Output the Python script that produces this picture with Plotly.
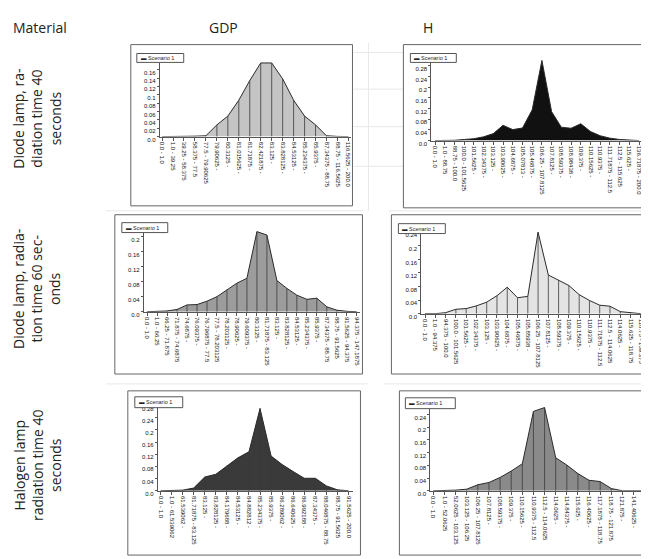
import plotly.graph_objects as go

W, H = 649, 559

# ---------------- data ----------------
cats_gdp_40 = ["0.0 - 1.0", "1.0 - 39.25", "39.25 - 58.375", "58.375 - 77.5", "77.5 - 79.90625",
               "79.90625 -", "80.3125 -", "81.015625 -", "81.71875 -", "82.421875 -", "83.125 -",
               "83.828125 -", "84.53125 -", "85.234375 -", "85.9375 -", "87.34375 - 88.75",
               "88.75 - 116.5625", "116.5625 - 200.0"]
vals_gdp_40 = [0, 0, 0, 0.001, 0.002, 0.028, 0.049, 0.087, 0.134, 0.176, 0.176, 0.138, 0.087,
               0.049, 0.028, 0.002, 0.0005, 0]

cats_h_40 = ["0.0 - 1.0", "1.0 - 88.75", "88.75 - 100.0", "100.0 - 101.5625", "101.5625 -",
             "102.34375 -", "103.125 -", "103.90625 -", "104.6875 -", "105.07813 -", "105.46875 -",
             "106.25 - 107.8125", "107.8125 -", "108.59375 -", "108.98438 -", "109.375 -",
             "110.15625 -", "110.9375 -", "111.71875 - 112.5", "112.5 - 115.625", "115.625 -",
             "136.71875 - 200.0"]
vals_h_40 = [0, 0, 0.001, 0.004, 0.007, 0.014, 0.026, 0.057, 0.041, 0.047, 0.115, 0.30, 0.108,
             0.05, 0.046, 0.063, 0.034, 0.018, 0.009, 0.004, 0.001, 0]

cats_gdp_60 = ["0.0 - 1.0", "1.0 - 66.25", "66.25 - 71.875", "71.875 - 74.6875", "74.6875 -",
               "76.09375 -", "76.796875 - 77.5", "77.5 - 78.203125", "78.203125 -", "78.90625 -",
               "79.609375 -", "80.3125 -", "81.71875 - 83.125", "83.125 -", "83.828125 -",
               "84.53125 -", "85.234375 -", "85.9375 -", "87.34375 - 88.75", "88.75 - 91.5625",
               "91.5625 - 94.375", "94.375 - 147.1875"]
vals_gdp_60 = [0, 0, 0.002, 0.006, 0.018, 0.019, 0.028, 0.040, 0.058, 0.076, 0.089, 0.213,
               0.204, 0.083, 0.062, 0.044, 0.033, 0.036, 0.013, 0.004, 0.001, 0]

cats_h_60 = ["0.0 - 1.0", "1.0 - 94.375", "94.375 - 100.0", "100.0 - 101.5625", "101.5625 -",
             "102.34375 -", "103.125 -", "103.90625 -", "104.6875 -", "105.46875 -",
             "105.85938 -", "106.25 - 107.8125", "107.8125 -", "108.59375 -", "109.375 -",
             "110.15625 -", "110.9375 -", "111.71875 - 112.5", "112.5 - 114.0625", "114.0625 -",
             "115.625 - 118.75", "118.75 - 159.375"]
vals_h_60 = [0, 0, 0.003, 0.013, 0.015, 0.023, 0.034, 0.053, 0.078, 0.047, 0.051, 0.240,
             0.114, 0.099, 0.083, 0.056, 0.039, 0.025, 0.022, 0.006, 0.003, 0]

cats_gdp_hal = ["0.0 - 1.0", "1.0 - 61.539062", "61.539062 -", "81.71875 - 83.125", "83.125 -",
                "83.828125 -", "84.179688 -", "84.53125 -", "84.882812 -", "85.234375 -",
                "85.9375 -", "86.289062 -", "86.640625 -", "86.992188 -", "87.34375 -",
                "88.046875 - 88.75", "88.75 - 91.5625", "91.5625 - 200.0"]
vals_gdp_hal = [0, 0, 0.002, 0.009, 0.045, 0.054, 0.082, 0.108, 0.128, 0.27, 0.114, 0.086,
                0.063, 0.041, 0.041, 0.016, 0.003, 0]

cats_h_hal = ["0.0 - 1.0", "1.0 - 52.0625", "52.0625 - 103.125", "103.125 - 106.25",
              "106.25 - 107.8125", "107.8125 -", "108.59375 -", "109.375 -", "110.15625 -",
              "110.9375 - 112.5", "112.5 - 114.0625", "114.0625 -", "114.84375 -", "115.625 -",
              "116.40625 -", "117.1875 - 118.75", "118.75 - 121.875", "121.875 -",
              "141.40625 -", "160.9375 - 200.0"]
vals_h_hal = [0, 0, 0.002, 0.005, 0.019, 0.026, 0.042, 0.062, 0.085, 0.25, 0.262, 0.104,
              0.081, 0.054, 0.033, 0.029, 0.007, 0, 0, 0]

ticks_a = [0.0, 0.02, 0.04, 0.06, 0.08, 0.1, 0.12, 0.14, 0.16]
ticklab_a = ["0.0", "0.02", "0.04", "0.06", "0.08", "0.1", "0.12", "0.14", "0.16"]
ticks_b = [0.0, 0.04, 0.08, 0.12, 0.16, 0.2, 0.24, 0.28]
ticklab_b = ["0.0", "0.04", "0.08", "0.12", "0.16", "0.2", "0.24", "0.28"]

col_titles = ["Material", "GDP", "H"]
row_titles = ["Diode lamp, ra-<br>diation time 40<br>seconds",
              "Diode lamp, radia-<br>tion time 60 sec-<br>onds",
              "Halogen lamp<br>radiation time 40<br>seconds"]
legend_text = "Scenario 1"

# ---------------- geometry (pixels) ----------------
panels = [
    dict(cats=cats_gdp_40, vals=vals_gdp_40, fill="#c4c4c4", ticks=ticks_a, tl=ticklab_a,
         ax=(151, 343), ay=(48, 130), scale=423, first=153.3, step=10.98,
         frame=(122, 37, 344, 200), leg=(128, 46, 175, 55)),
    dict(cats=cats_h_40, vals=vals_h_40, fill="#111111", ticks=ticks_b, tl=ticklab_b,
         ax=(423, 634), ay=(48, 134), scale=270, first=426.7, step=9.73,
         frame=(395, 37, 637, 202), leg=(402, 46, 448, 55)),
    dict(cats=cats_gdp_60, vals=vals_gdp_60, fill="#9c9c9c", ticks=ticks_b, tl=ticklab_b,
         ax=(135, 352), ay=(222, 307), scale=380, first=138.3, step=10.0,
         frame=(106, 209, 354, 370), leg=(113, 217, 159, 227)),
    dict(cats=cats_h_60, vals=vals_h_60, fill="#e4e4e4", ticks=ticks_b, tl=ticklab_b,
         ax=(413, 640), ay=(222, 309), scale=343, first=416.7, step=10.29,
         frame=(383, 209, 643, 370), leg=(390, 218, 437, 228)),
    dict(cats=cats_gdp_hal, vals=vals_gdp_hal, fill="#3a3a3a", ticks=ticks_b, tl=ticklab_b,
         ax=(149, 345), ay=(400, 488), scale=308, first=151.7, step=11.08,
         frame=(119, 387, 352, 553), leg=(126, 393, 174, 404)),
    dict(cats=cats_h_hal, vals=vals_h_hal, fill="#8a8a8a", ticks=ticks_b, tl=ticklab_b,
         ax=(422, 643), ay=(400, 488), scale=321, first=425.0, step=11.14,
         frame=(391, 387, 646, 553), leg=(397, 394, 447, 405)),
]

# faint background lines (remnants of the screenshots)
faint = [
    (345, 45, 395, 45), (345, 82, 395, 82), (345, 120, 395, 120), (345, 160, 395, 160),
    (360, 35, 360, 205), (637, 45, 649, 45), (637, 120, 649, 120),
    (97, 205, 355, 205), (380, 205, 649, 205),
    (97, 380, 360, 380), (375, 380, 649, 380),
]

def fx(px):
    return px / W

def fy(py):
    return 1 - py / H

fig = go.Figure()
shapes = []
annotations = []
lay = {}
tickfont = dict(family="Liberation Sans", size=6, color="#111")

for (a, b, c, d) in faint:
    shapes.append(dict(type="line", xref="paper", yref="paper", x0=fx(a), x1=fx(c),
                       y0=fy(b), y1=fy(d), line=dict(color="#e8e8e8", width=1), layer="below"))

for i, p in enumerate(panels, start=1):
    xa = "x" if i == 1 else f"x{i}"
    ya = "y" if i == 1 else f"y{i}"
    # drop lines
    dx, dy = [], []
    for c, v in zip(p["cats"], p["vals"]):
        dx += [c, c, None]
        dy += [0, v, None]
    fig.add_trace(go.Scatter(x=p["cats"], y=p["vals"], mode="lines", fill="tozeroy",
                             fillcolor=p["fill"], line=dict(color="#2a2a2a", width=1),
                             xaxis=xa, yaxis=ya, showlegend=False, hoverinfo="skip"))
    if p["fill"] != "#111111":
        fig.add_trace(go.Scatter(x=dx, y=dy, mode="lines",
                                 line=dict(color="#3a3a3a", width=0.8),
                                 xaxis=xa, yaxis=ya, showlegend=False, hoverinfo="skip"))
    x0, x1 = p["ax"]
    y0, y1 = p["ay"]
    r0 = (x0 - p["first"]) / p["step"]
    r1 = (x1 - p["first"]) / p["step"]
    ytop = (y1 - y0) / p["scale"]
    lay["xaxis" if i == 1 else f"xaxis{i}"] = dict(
        domain=[fx(x0), fx(x1)], anchor=ya, type="category", categoryorder="array",
        categoryarray=p["cats"], range=[r0, r1], tickmode="array", tickvals=p["cats"],
        ticktext=p["cats"], tickangle=90, tickfont=tickfont, ticklabeloverflow="allow",
        showline=True, linecolor="#555", linewidth=1, ticks="outside", ticklen=3,
        tickcolor="#555", showgrid=False, zeroline=False, fixedrange=True)
    lay["yaxis" if i == 1 else f"yaxis{i}"] = dict(
        domain=[fy(y1), fy(y0)], anchor=xa, range=[0, ytop], tickvals=p["ticks"],
        ticktext=p["tl"], tickfont=tickfont, showline=True, linecolor="#555", linewidth=1,
        ticks="outside", ticklen=2, tickcolor="#555", showgrid=False, zeroline=False,
        ticklabelshift=3, fixedrange=True)
    fl, ft, fr, fb = p["frame"]
    shapes.append(dict(type="rect", xref="paper", yref="paper", x0=fx(fl), x1=fx(fr),
                       y0=fy(fb), y1=fy(ft), line=dict(color="#666", width=1)))
    ll, lt, lr, lb = p["leg"]
    shapes.append(dict(type="rect", xref="paper", yref="paper", x0=fx(ll), x1=fx(lr),
                       y0=fy(lb), y1=fy(lt), line=dict(color="#555", width=1),
                       fillcolor="white"))
    annotations.append(dict(xref="paper", yref="paper", x=fx(ll + 2), y=fy((lt + lb) / 2),
                            xanchor="left", yanchor="middle", showarrow=False,
                            text="\u25ac " + legend_text,
                            font=dict(family="Liberation Sans", size=5.5, color="#222")))

font_t = dict(family="Open Sans", size=14, color="#222")
annotations.append(dict(xref="paper", yref="paper", x=fx(31), y=fy(20), text=col_titles[0],
                        showarrow=False, font=font_t, xanchor="center", yanchor="middle"))
annotations.append(dict(xref="paper", yref="paper", x=fx(215), y=fy(20), text=col_titles[1],
                        showarrow=False, font=font_t, xanchor="center", yanchor="middle"))
annotations.append(dict(xref="paper", yref="paper", x=fx(420), y=fy(20), text=col_titles[2],
                        showarrow=False, font=font_t, xanchor="center", yanchor="middle"))
for yc, t in zip([112, 284, 462], row_titles):
    annotations.append(dict(xref="paper", yref="paper", x=fx(28), y=fy(yc), text=t,
                            textangle=-90, showarrow=False, font=font_t,
                            xanchor="center", yanchor="middle"))

fig.update_layout(width=W, height=H, margin=dict(l=0, r=0, t=0, b=0),
                  paper_bgcolor="white", plot_bgcolor="white", shapes=shapes,
                  annotations=annotations, **lay)
fig.write_html("out.html")
